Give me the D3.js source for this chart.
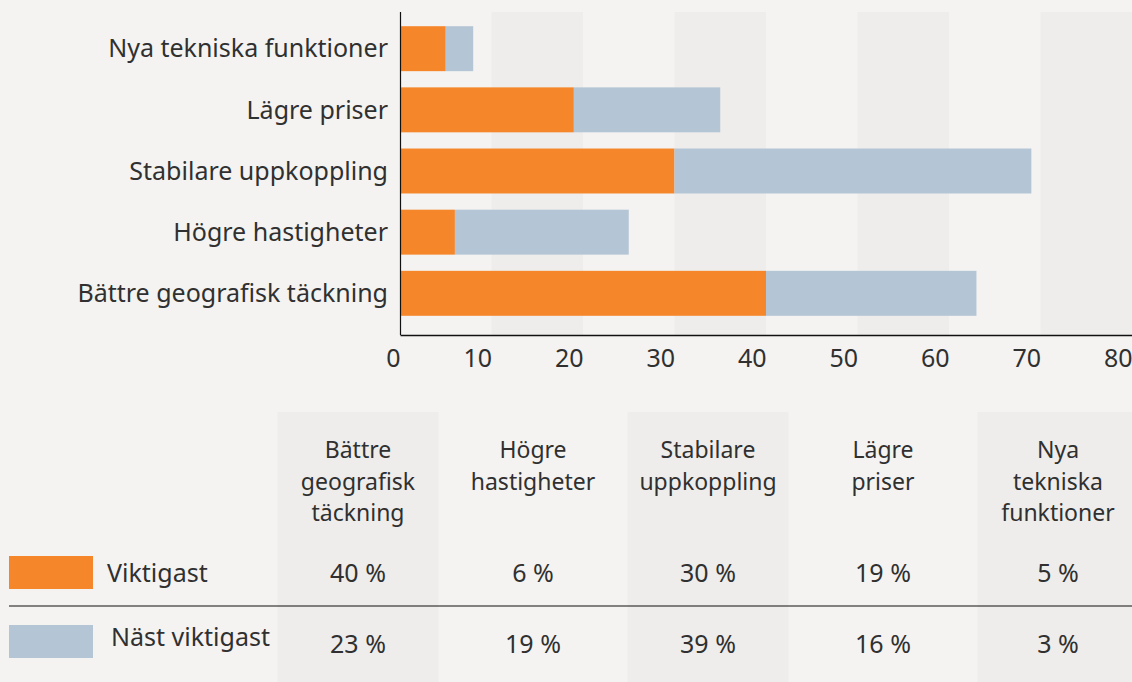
<!DOCTYPE html>
<html>
<head>
<meta charset="utf-8">
<script src="https://cdn.jsdelivr.net/npm/d3@7"></script>
<style>
  body { margin: 0; background: #f4f3f1; }
  svg { display: block; font-family: "Noto Sans", sans-serif; }
  text { fill: #303030; }
</style>
</head>
<body>
<svg id="chart" width="1132" height="682"></svg>
<script>
// data, in table order
const categories = ["Bättre geografisk täckning", "Högre hastigheter", "Stabilare uppkoppling", "Lägre priser", "Nya tekniska funktioner"];
const headerLines = [["Bättre", "geografisk", "täckning"], ["Högre", "hastigheter"], ["Stabilare", "uppkoppling"], ["Lägre", "priser"], ["Nya", "tekniska", "funktioner"]];
const seriesNames = ["Viktigast", "Näst viktigast"];
const viktigast = [40, 6, 30, 19, 5];
const nastViktigast = [23, 19, 39, 16, 3];
const xTicks = [0, 10, 20, 30, 40, 50, 60, 70, 80];

const colors = ["#f5862a", "#b4c5d5"];
const fontSize = 25;
const svg = d3.select("#chart");

const plot = { left: 400, right: 1132, top: 12, bottom: 335 };

const x = d3.scaleLinear().domain([0, 80]).range([plot.left, plot.right]);
// bars drawn top-to-bottom in reverse table order
const y = d3.scaleBand()
    .domain(categories.slice().reverse())
    .range([10, 332])
    .paddingInner(0.265)
    .paddingOuter(0.265);

// alternating grid bands
const bandStarts = [10, 30, 50, 70];
svg.append("g")
    .selectAll("rect")
    .data(bandStarts)
    .join("rect")
    .attr("x", d => x(d))
    .attr("y", plot.top)
    .attr("width", d => x(d + 10) - x(d))
    .attr("height", plot.bottom - plot.top)
    .attr("fill", "#eeedeb");

const rows = categories.map((c, i) => ({ cat: c, a: viktigast[i], b: nastViktigast[i] }));
const stacked = d3.stack().keys(["a", "b"])(rows);

svg.append("g")
    .selectAll("g")
    .data(stacked)
    .join("g")
    .attr("fill", (d, i) => colors[i])
    .selectAll("rect")
    .data(d => d)
    .join("rect")
    .attr("x", d => x(d[0]))
    .attr("y", d => y(d.data.cat))
    .attr("width", d => x(d[1]) - x(d[0]))
    .attr("height", y.bandwidth());

// category labels
svg.append("g")
    .selectAll("text")
    .data(categories)
    .join("text")
    .attr("x", 388)
    .attr("y", d => y(d) + y.bandwidth() / 2)
    .attr("dy", "0.35em")
    .attr("text-anchor", "end")
    .attr("font-size", fontSize)
    .text(d => d);

// axes lines
svg.append("line")
    .attr("x1", plot.left + 0.5).attr("x2", plot.left + 0.5)
    .attr("y1", plot.top).attr("y2", plot.bottom)
    .attr("stroke", "#111").attr("stroke-width", 1.2);

const xAxis = svg.append("g")
    .attr("transform", `translate(0,${plot.bottom})`)
    .call(d3.axisBottom(x).tickValues(xTicks).tickSize(0).tickPadding(0));
xAxis.select(".domain").attr("stroke", "#111").attr("stroke-width", 1.5);
xAxis.selectAll("text")
    .attr("text-anchor", "end")
    .attr("dy", null)
    .attr("y", 32)
    .attr("font-size", fontSize)
    .attr("font-family", "Noto Sans, sans-serif")
    .attr("fill", "#303030");

// table
const colX = d3.scalePoint().domain(categories).range([358, 1058]);
const colW = 161;

svg.append("g")
    .selectAll("rect")
    .data(categories.filter((d, i) => i % 2 === 0))
    .join("rect")
    .attr("x", d => colX(d) - colW / 2)
    .attr("y", 412)
    .attr("width", colW)
    .attr("height", 682 - 412)
    .attr("fill", "#eeedeb");

// header: one text per line
const headerData = [];
categories.forEach((c, i) => {
    headerLines[i].forEach((t, j) => headerData.push({ cat: c, line: j, text: t }));
});
svg.append("g")
    .selectAll("text")
    .data(headerData)
    .join("text")
    .attr("x", d => colX(d.cat))
    .attr("y", d => 458 + d.line * 31.5)
    .attr("text-anchor", "middle")
    .attr("font-size", 23)
    .text(d => d.text);

svg.append("line")
    .attr("x1", 9).attr("x2", 1132)
    .attr("y1", 606).attr("y2", 606)
    .attr("stroke", "#111").attr("stroke-width", 1.2);

const tableRows = [
    { name: seriesNames[0], values: viktigast, swatchY: 556, textY: 582, valY: 582, textX: 107 },
    { name: seriesNames[1], values: nastViktigast, swatchY: 625, textY: 646, valY: 653, textX: 111 }
];

tableRows.forEach((r, ri) => {
    svg.append("rect")
        .attr("x", 9).attr("y", r.swatchY)
        .attr("width", 84).attr("height", 33)
        .attr("fill", colors[ri]);
    svg.append("text")
        .attr("x", r.textX).attr("y", r.textY)
        .attr("font-size", fontSize)
        .text(r.name);
    svg.append("g")
        .selectAll("text")
        .data(categories)
        .join("text")
        .attr("x", d => colX(d))
        .attr("y", r.valY)
        .attr("text-anchor", "middle")
        .attr("font-size", fontSize)
        .text((d, i) => r.values[i] + " %");
});
</script>
</body>
</html>
